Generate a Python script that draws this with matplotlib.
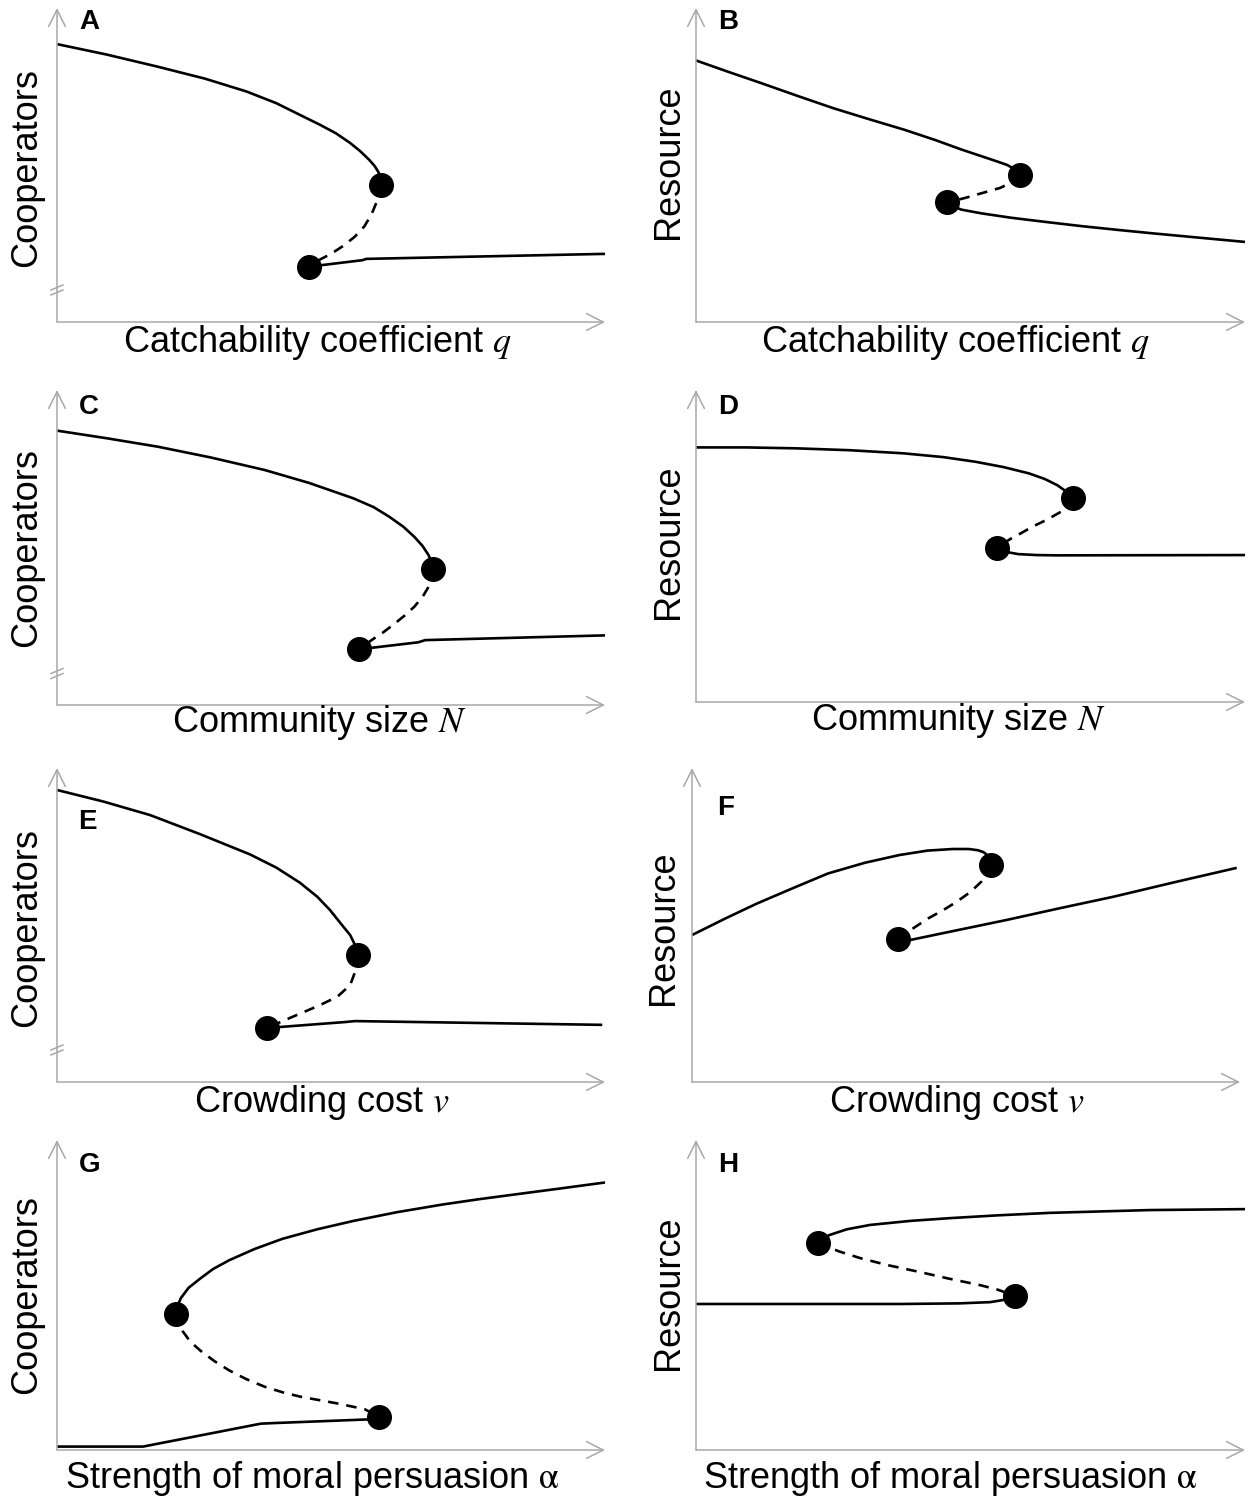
import matplotlib
matplotlib.use("Agg")
import matplotlib.pyplot as plt

plt.rcParams['font.family'] = ['Liberation Sans', 'DejaVu Sans']
plt.rcParams['mathtext.fontset'] = 'stix'

# Bifurcation branches, axis-fraction units (x = parameter, y = state)
# A: cooperators vs catchability
A_hi = [(0, 0.885), (0.09, 0.852), (0.184, 0.813), (0.27, 0.775), (0.346, 0.734), (0.40, 0.697),
        (0.444, 0.659), (0.48, 0.628), (0.509, 0.601), (0.535, 0.570), (0.554, 0.543),
        (0.570, 0.516), (0.580, 0.496), (0.587, 0.476), (0.590, 0.460), (0.592, 0.435)]
A_mid = [(0.592, 0.435), (0.589, 0.410), (0.584, 0.385), (0.574, 0.343), (0.561, 0.305),
         (0.543, 0.271), (0.522, 0.242), (0.501, 0.218), (0.480, 0.199), (0.459, 0.176)]
A_lo = [(0.459, 0.176), (0.558, 0.197), (0.564, 0.201), (1.0, 0.217)]

# B: resource vs catchability
B_hi = [(0, 0.833), (0.06, 0.796), (0.120, 0.760), (0.185, 0.720), (0.250, 0.681), (0.315, 0.646),
        (0.380, 0.612), (0.435, 0.580), (0.484, 0.549), (0.520, 0.528), (0.549, 0.511),
        (0.567, 0.500), (0.580, 0.487), (0.590, 0.467)]
B_mid = [(0.590, 0.467), (0.573, 0.443), (0.554, 0.427), (0.522, 0.411), (0.490, 0.395), (0.458, 0.381)]
B_lo = [(0.458, 0.381), (0.470, 0.368), (0.483, 0.358), (0.52, 0.346), (0.574, 0.332), (0.64, 0.318),
        (0.704, 0.305), (0.77, 0.293), (0.834, 0.282), (0.92, 0.268), (1.0, 0.255)]

# C: cooperators vs community size
C_hi = [(0, 0.871), (0.09, 0.847), (0.184, 0.820), (0.28, 0.786), (0.379, 0.746), (0.46, 0.705),
        (0.541, 0.656), (0.578, 0.628), (0.606, 0.598), (0.632, 0.566), (0.652, 0.534),
        (0.667, 0.505), (0.678, 0.476), (0.684, 0.452), (0.686, 0.431)]
C_mid = [(0.686, 0.431), (0.684, 0.403), (0.678, 0.375), (0.667, 0.343), (0.652, 0.312),
         (0.633, 0.282), (0.613, 0.254), (0.594, 0.229), (0.574, 0.206), (0.552, 0.177)]
C_lo = [(0.552, 0.177), (0.659, 0.199), (0.672, 0.206), (1.0, 0.221)]

# D: resource vs community size
D_hi = [(0, 0.816), (0.09, 0.816), (0.183, 0.813), (0.28, 0.807), (0.378, 0.797), (0.45, 0.785),
        (0.509, 0.770), (0.560, 0.753), (0.606, 0.733), (0.635, 0.715), (0.658, 0.695),
        (0.675, 0.674), (0.686, 0.654)]
D_mid = [(0.686, 0.654), (0.677, 0.630), (0.665, 0.610), (0.640, 0.585), (0.613, 0.562),
         (0.594, 0.543), (0.574, 0.524), (0.548, 0.495)]
D_lo = [(0.548, 0.495), (0.565, 0.481), (0.587, 0.474), (0.62, 0.471), (0.658, 0.470), (1.0, 0.471)]

# E: cooperators vs crowding cost
E_hi = [(0, 0.930), (0.085, 0.893), (0.170, 0.850), (0.26, 0.790), (0.352, 0.725), (0.40, 0.683),
        (0.443, 0.635), (0.475, 0.590), (0.498, 0.548), (0.520, 0.500), (0.535, 0.468),
        (0.545, 0.432), (0.549, 0.404)]
E_mid = [(0.549, 0.404), (0.546, 0.360), (0.535, 0.309), (0.512, 0.272), (0.480, 0.245),
         (0.452, 0.224), (0.425, 0.204), (0.383, 0.172)]
E_lo = [(0.383, 0.172), (0.526, 0.191), (0.544, 0.194), (0.995, 0.182)]

# F: resource vs crowding cost
F_hi = [(0, 0.468), (0.06, 0.520), (0.118, 0.568), (0.185, 0.618), (0.248, 0.664), (0.315, 0.698),
        (0.379, 0.723), (0.430, 0.737), (0.476, 0.742), (0.505, 0.742), (0.522, 0.738),
        (0.532, 0.732), (0.540, 0.721), (0.544, 0.707), (0.545, 0.691)]
F_mid = [(0.545, 0.691), (0.538, 0.662), (0.528, 0.638), (0.508, 0.605), (0.483, 0.574),
         (0.458, 0.547), (0.431, 0.521), (0.398, 0.483), (0.376, 0.457)]
F_lo = [(0.376, 0.457), (0.392, 0.450), (0.48, 0.482), (0.574, 0.516), (0.67, 0.553),
        (0.769, 0.590), (0.88, 0.636), (0.994, 0.682)]

# G: cooperators vs moral persuasion
G_hi = [(0.217, 0.440), (0.220, 0.465), (0.226, 0.490), (0.240, 0.523), (0.262, 0.554),
        (0.285, 0.584), (0.314, 0.612), (0.36, 0.648), (0.411, 0.681), (0.475, 0.712),
        (0.541, 0.739), (0.62, 0.767), (0.704, 0.792), (0.77, 0.809), (0.834, 0.824),
        (0.92, 0.844), (1.0, 0.863)]
G_mid = [(0.217, 0.440), (0.221, 0.412), (0.229, 0.384), (0.243, 0.350), (0.262, 0.320),
         (0.287, 0.287), (0.314, 0.257), (0.345, 0.229), (0.379, 0.204), (0.412, 0.186),
         (0.444, 0.172), (0.509, 0.151), (0.561, 0.132), (0.587, 0.108)]
G_lo = [(0, 0.011), (0.157, 0.011), (0.372, 0.085), (0.398, 0.087), (0.587, 0.100)]

# H: resource vs moral persuasion
H_hi = [(0.222, 0.668), (0.232, 0.684), (0.244, 0.694), (0.275, 0.712), (0.317, 0.726),
        (0.39, 0.739), (0.463, 0.748), (0.55, 0.757), (0.645, 0.765), (0.827, 0.774), (1.0, 0.777)]
H_mid = [(0.222, 0.668), (0.26, 0.641), (0.299, 0.619), (0.35, 0.596), (0.408, 0.574),
         (0.46, 0.553), (0.517, 0.532), (0.55, 0.517), (0.581, 0.497)]
H_lo = [(0, 0.471), (0.372, 0.471), (0.48, 0.473), (0.536, 0.477), (0.560, 0.484), (0.581, 0.497)]

W, H = 1251, 1500
fig = plt.figure(figsize=(W / 100, H / 100), dpi=100)
AXIS_GREY = '#a8a8a8'


def panel(box, hi, mid, lo, letter, letter_xy, xlabel, xlabel_xy, ylabel, ylabel_xy, brk=None):
    x0, y0, x1, y1 = box
    ax = fig.add_axes([x0 / W, 1 - y0 / H, (x1 - x0) / W, (y0 - y1) / H])
    ax.set_xlim(0, 1)
    ax.set_ylim(0, 1)
    ax.axis('off')
    arrow = dict(arrowstyle='->,head_length=1.2,head_width=0.6', color=AXIS_GREY,
                 lw=1.1, shrinkA=0, shrinkB=0, mutation_scale=10)
    ax.annotate('', xy=(1, 0), xytext=(0, 0), xycoords='axes fraction', arrowprops=arrow)
    ax.annotate('', xy=(0, 1), xytext=(0, 0), xycoords='axes fraction', arrowprops=arrow)

    # axis break marks on the y axis
    if brk is not None:
        pw, ph = x1 - x0, y0 - y1
        for off in (-2.5, 2.5):
            ax.plot([-6 / pw, 6 / pw], [brk + (off - 2.5) / ph, brk + (off + 2.5) / ph],
                    color=AXIS_GREY, lw=1.1, clip_on=False)

    for seg, ls in ((hi, '-'), (lo, '-'), (mid, (0, (4, 3)))):
        xs, ys = zip(*seg)
        ax.plot(xs, ys, color='black', lw=1.9, ls=ls, clip_on=False,
                solid_capstyle='butt', dash_capstyle='butt', solid_joinstyle='round')
    # fold points sit at the ends of the unstable branch
    for px, py in (mid[0], mid[-1]):
        ax.plot(px, py, 'o', color='black', ms=17, clip_on=False, zorder=5)

    fig.text(letter_xy[0] / W, 1 - letter_xy[1] / H, letter, fontsize=20,
             fontweight='bold', ha='center', va='center')
    fig.text(xlabel_xy[0] / W, 1 - xlabel_xy[1] / H, xlabel, fontsize=26,
             ha='center', va='center')
    fig.text(ylabel_xy[0] / W, 1 - ylabel_xy[1] / H, ylabel, fontsize=26,
             ha='center', va='center', rotation=90)


panel((57, 322, 605, 8), A_hi, A_mid, A_lo, 'A', (89, 22),
      'Catchability coefficient $q$', (317, 343), 'Cooperators', (27, 168), brk=0.102)
panel((696, 322, 1245, 8), B_hi, B_mid, B_lo, 'B', (728, 22),
      'Catchability coefficient $q$', (955, 343), 'Resource', (668, 162))
panel((57, 705, 605, 390), C_hi, C_mid, C_lo, 'C', (89, 407),
      'Community size $N$', (320, 723), 'Cooperators', (27, 548), brk=0.10)
panel((696, 702, 1245, 390), D_hi, D_mid, D_lo, 'D', (728, 407),
      'Community size $N$', (959, 720), 'Resource', (668, 542))
panel((57, 1082, 605, 768), E_hi, E_mid, E_lo, 'E', (87, 822),
      'Crowding cost $v$', (322, 1103), 'Cooperators', (27, 928), brk=0.102)
panel((692, 1082, 1240, 768), F_hi, F_mid, F_lo, 'F', (726, 808),
      'Crowding cost $v$', (957, 1103), 'Resource', (663, 928))
panel((57, 1450, 605, 1140), G_hi, G_mid, G_lo, 'G', (90, 1165),
      r'Strength of moral persuasion $\mathrm{\alpha}$', (312, 1478), 'Cooperators', (27, 1295))
panel((696, 1450, 1245, 1140), H_hi, H_mid, H_lo, 'H', (728, 1165),
      r'Strength of moral persuasion $\mathrm{\alpha}$', (950, 1478), 'Resource', (668, 1293))

fig.savefig('out.png', dpi=100, facecolor='white')
